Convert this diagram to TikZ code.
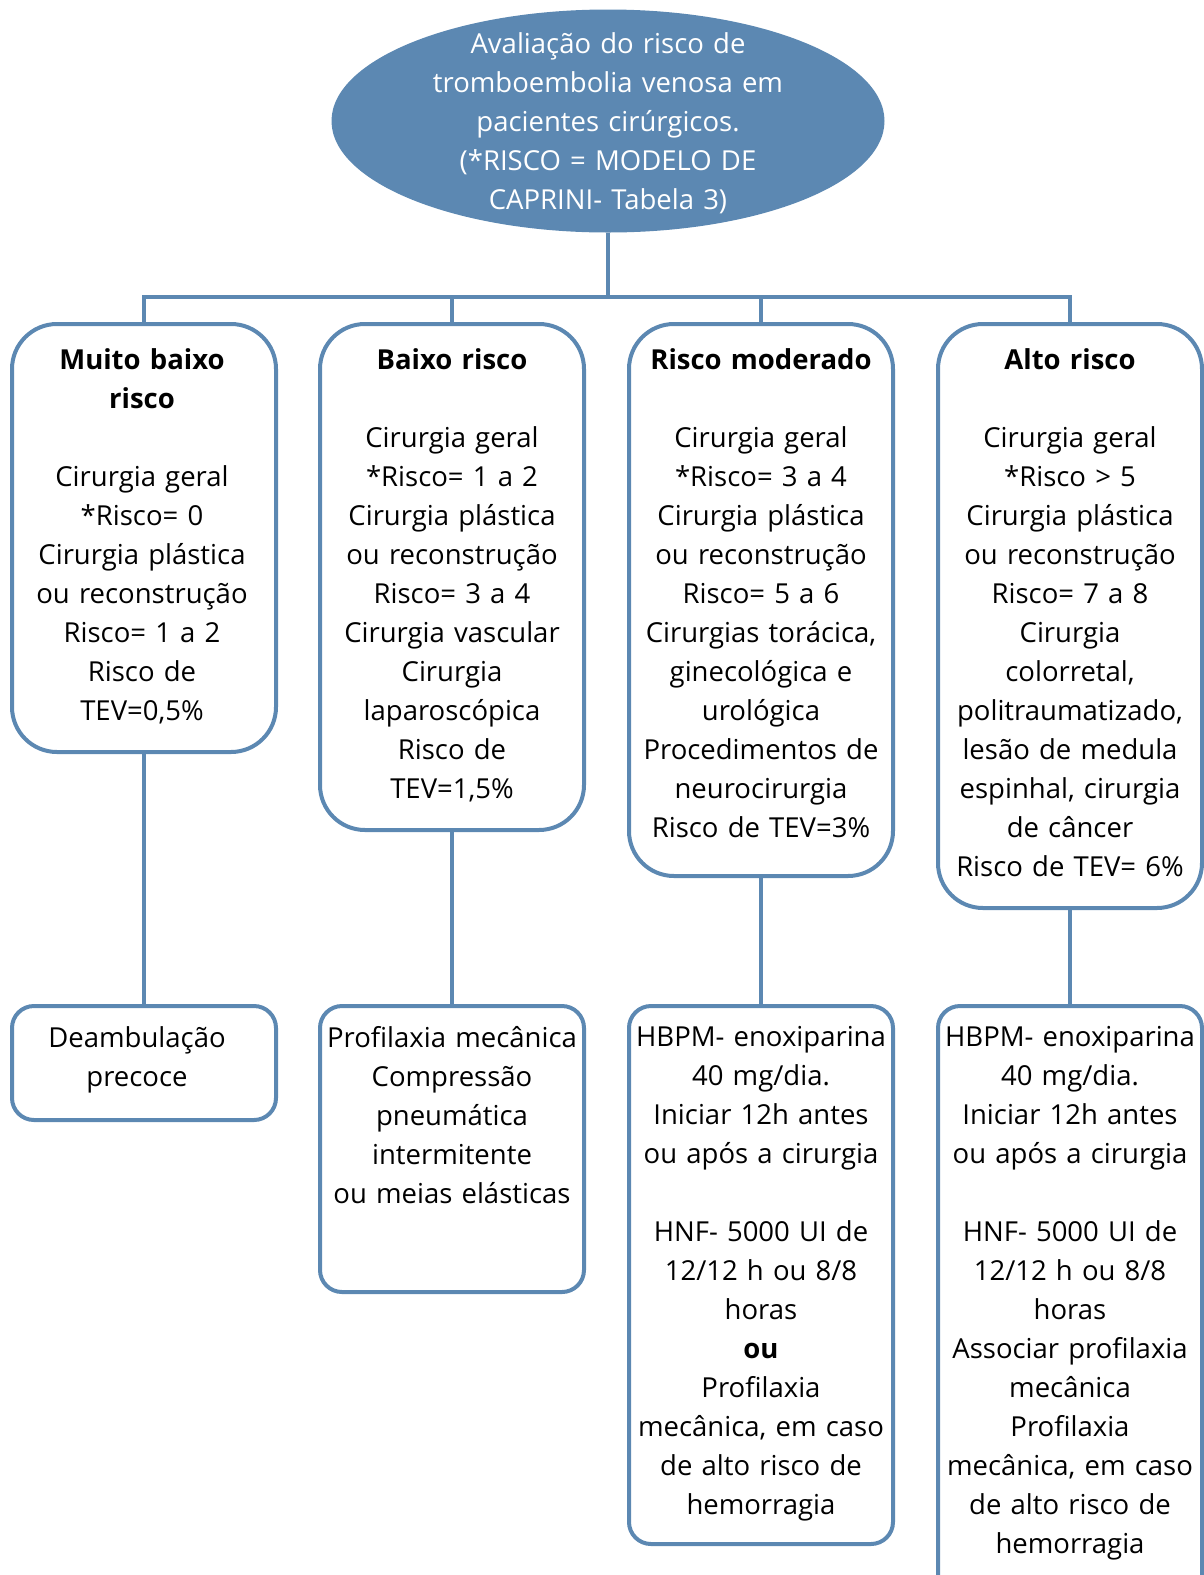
\documentclass[tikz,border=0pt]{standalone}
\usepackage{fontspec}
\setmainfont{Open Sans}
\usetikzlibrary{shapes.geometric}
\definecolor{bl}{RGB}{92,136,178}
\begin{document}
\begin{tikzpicture}[x=1pt,y=-1pt,
 box/.style={draw=bl, line width=4pt, rounded corners=45pt, anchor=north west, minimum width=264pt, inner sep=0pt},
 sbox/.style={box, rounded corners=22pt},
 txt/.style={anchor=north, inner sep=0pt, text width=300pt, align=center, font=\fontsize{27.5}{39}\selectfont},
 conn/.style={draw=bl, line width=4pt}]
\useasboundingbox (0,0) rectangle (1204,1575);
\clip (0,0) rectangle (1204,1575);
% root
\node[ellipse, fill=bl, minimum width=553pt, minimum height=223pt, inner sep=0pt] (ell) at (608,121) {};
\node[txt, text width=440pt, anchor=center, text=white, yshift=-2pt] (et) at (ell.center) {Avaliação do risco de\\tromboembolia venosa em\\pacientes cirúrgicos.\\(*RISCO = MODELO DE\\CAPRINI- Tabela 3)};
\coordinate (bar) at (608,297);
% level 1
\node[box, minimum height=428pt] (b1) at (10,322) {};
\node[box, minimum height=506pt] (b2) at (318,322) {};
\node[box, minimum height=552pt] (b3) at (627,322) {};
\node[box, minimum height=584pt] (b4) at (936,322) {};
% level 2
\node[sbox, minimum height=114pt] (c1) at (10,1004) {};
\node[sbox, minimum height=286pt] (c2) at (318,1004) {};
\node[sbox, minimum height=538pt] (c3) at (627,1004) {};
\node[sbox, minimum height=620pt] (c4) at (936,1004) {};
% connectors
\draw[conn] (ell.south) -- (bar);
\draw[conn] (b1.north) |- (bar);
\draw[conn] (b2.north) |- (bar);
\draw[conn] (b3.north) |- (bar);
\draw[conn] (b4.north) |- (bar);
\draw[conn] (b1.south) -- (c1.north);
\draw[conn] (b2.south) -- (c2.north);
\draw[conn] (b3.south) -- (c3.north);
\draw[conn] (b4.south) -- (c4.north);
% texts level 1
\node[txt, yshift=-26pt, xshift=-2pt] (t1) at (b1.north) {\textbf{Muito baixo\\risco}\\[39pt]Cirurgia geral\\{*}Risco= 0\\Cirurgia plástica\\ou reconstrução\\Risco= 1 a 2\\Risco de\\TEV=0,5\%};
\node[txt, yshift=-26pt] (t2) at (b2.north) {\textbf{Baixo risco}\\[39pt]Cirurgia geral\\{*}Risco= 1 a 2\\Cirurgia plástica\\ou reconstrução\\Risco= 3 a 4\\Cirurgia vascular\\Cirurgia\\laparoscópica\\Risco de\\TEV=1,5\%};
\node[txt, yshift=-26pt] (t3) at (b3.north) {\textbf{Risco moderado}\\[39pt]Cirurgia geral\\{*}Risco= 3 a 4\\Cirurgia plástica\\ou reconstrução\\Risco= 5 a 6\\Cirurgias torácica,\\ginecológica e\\urológica\\Procedimentos de\\neurocirurgia\\Risco de TEV=3\%};
\node[txt, yshift=-26pt] (t4) at (b4.north) {\textbf{Alto risco}\\[39pt]Cirurgia geral\\{*}Risco > 5\\Cirurgia plástica\\ou reconstrução\\Risco= 7 a 8\\Cirurgia\\colorretal,\\politraumatizado,\\lesão de medula\\espinhal, cirurgia\\de câncer\\Risco de TEV= 6\%};
% texts level 2
\node[txt, yshift=-22pt, xshift=-7pt] (u1) at (c1.north) {Deambulação\\precoce};
\node[txt, yshift=-22pt] (u2) at (c2.north) {Profilaxia mecânica\\Compressão\\pneumática\\intermitente\\ou meias elásticas};
\node[txt, yshift=-22pt] (u3) at (c3.north) {HBPM- enoxiparina\\40 mg/dia.\\Iniciar 12h antes\\ou após a cirurgia\\[39pt]HNF- 5000 UI de\\12/12 h ou 8/8\\horas\\\textbf{ou}\\Profilaxia\\mecânica, em caso\\de alto risco de\\hemorragia};
\node[txt, yshift=-22pt] (u4) at (c4.north) {HBPM- enoxiparina\\40 mg/dia.\\Iniciar 12h antes\\ou após a cirurgia\\[39pt]HNF- 5000 UI de\\12/12 h ou 8/8\\horas\\Associar profilaxia\\mecânica\\Profilaxia\\mecânica, em caso\\de alto risco de\\hemorragia};
\end{tikzpicture}
\end{document}
